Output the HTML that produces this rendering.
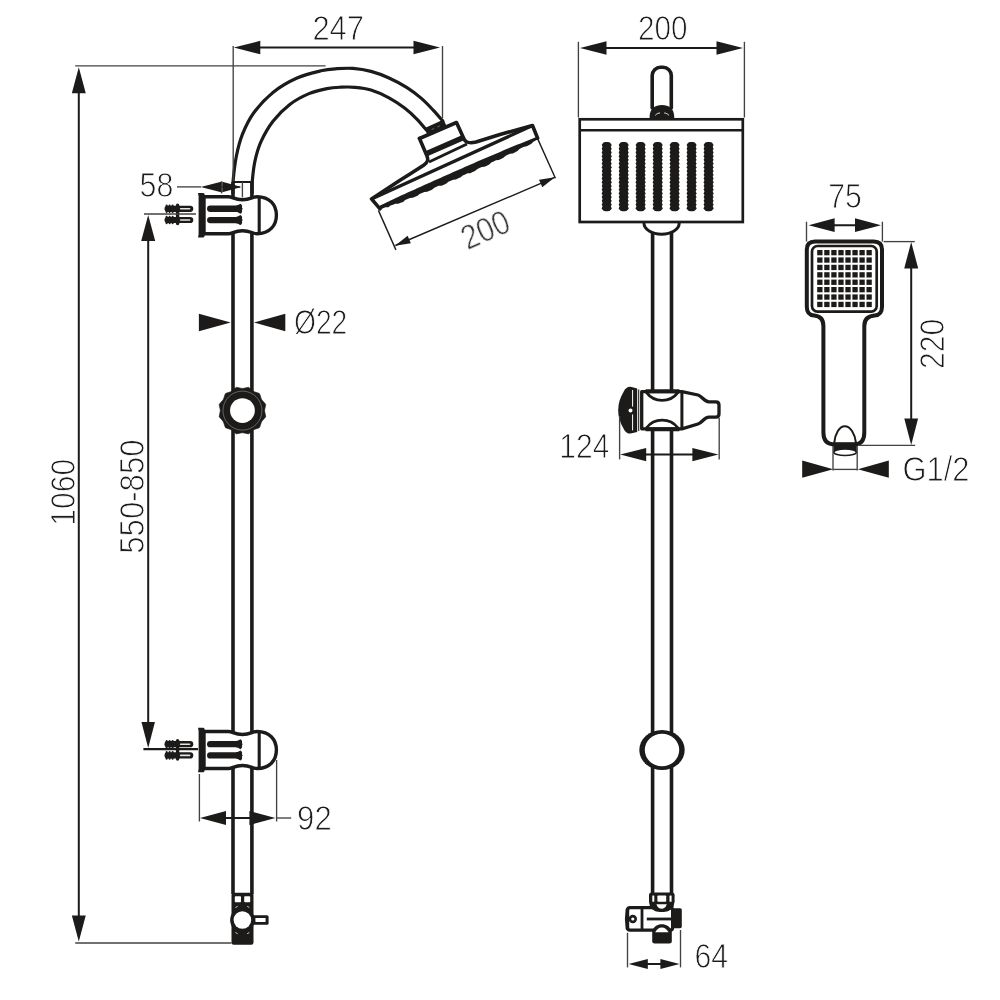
<!DOCTYPE html>
<html lang="en">
<head>
<meta charset="utf-8">
<title>Shower column - technical drawing</title>
<style>
html,body{margin:0;padding:0;background:#fff;}
body{width:1000px;height:1000px;overflow:hidden;}
svg{display:block;}
text{font-family:"Liberation Sans",sans-serif;}
</style>
</head>
<body>
<svg width="1000" height="1000" viewBox="0 0 1000 1000">
<rect x="0" y="0" width="1000" height="1000" fill="#fff"/>
<path d="M232.90,193.00 C232.95,190.83 232.62,186.17 233.20,180.00 C233.78,173.83 234.87,163.60 236.40,156.00 C237.93,148.40 239.50,141.60 242.40,134.40 C245.30,127.20 248.70,119.80 253.80,112.80 C258.90,105.80 265.80,98.20 273.00,92.40 C280.20,86.60 289.00,81.60 297.00,78.00 C305.00,74.40 314.33,72.35 321.00,70.80 C327.67,69.25 331.67,69.10 337.00,68.70 C342.33,68.30 347.33,67.95 353.00,68.40 C358.67,68.85 365.00,69.80 371.00,71.40 C377.00,73.00 383.00,75.30 389.00,78.00 C395.00,80.70 401.60,84.20 407.00,87.60 C412.40,91.00 417.00,94.60 421.40,98.40 C425.80,102.20 429.83,106.60 433.40,110.40 C436.97,114.20 441.23,119.40 442.80,121.20" fill="none" stroke="#1c1b1a" stroke-width="3.2" stroke-linejoin="round" stroke-linecap="round" />
<path d="M252.10,193.00 C252.15,190.83 251.92,185.37 252.40,180.00 C252.88,174.63 253.57,167.20 255.00,160.80 C256.43,154.40 258.00,148.20 261.00,141.60 C264.00,135.00 268.20,127.40 273.00,121.20 C277.80,115.00 283.80,109.00 289.80,104.40 C295.80,99.80 302.80,96.23 309.00,93.60 C315.20,90.97 321.67,89.67 327.00,88.60 C332.33,87.53 336.33,87.42 341.00,87.20 C345.67,86.98 350.00,86.83 355.00,87.30 C360.00,87.77 365.33,88.25 371.00,90.00 C376.67,91.75 383.40,94.80 389.00,97.80 C394.60,100.80 400.00,104.50 404.60,108.00 C409.20,111.50 412.97,115.13 416.60,118.80 C420.23,122.47 424.77,128.13 426.40,130.00" fill="none" stroke="#1c1b1a" stroke-width="3.2" stroke-linejoin="round" stroke-linecap="round" />
<line x1="233.00" y1="182.00" x2="251.90" y2="182.00" stroke="#1c1b1a" stroke-width="2.0" />
<path d="M424.4,128.2 L443.6,119.6 L446.6,126.2 L427.4,134.8 Z" fill="#1c1b1a" stroke="none" />
<line x1="431.60" y1="129.60" x2="434.20" y2="128.40" stroke="#1c1b1a" stroke-width="0.5" style="stroke:#aaa"/>
<line x1="437.40" y1="127.00" x2="440.00" y2="125.80" stroke="#1c1b1a" stroke-width="0.5" style="stroke:#aaa"/>
<line x1="233.00" y1="182.00" x2="233.00" y2="894.00" stroke="#1c1b1a" stroke-width="3.6" />
<line x1="251.90" y1="182.00" x2="251.90" y2="894.00" stroke="#1c1b1a" stroke-width="3.6" />
<path d="M204,196.70 L228.5,196.70 C232.5,196.70 234.5,199.70 242.5,199.70 C250.5,199.70 252.5,196.70 257,196.70 C270,196.70 276.4,205.20 276.4,215.20 C276.4,225.20 270,233.70 257,233.70 C252.5,233.70 250.5,230.70 242.5,230.70 C234.5,230.70 232.5,233.70 228.5,233.70 L204,233.70 Z" fill="#fff" stroke="#1c1b1a" stroke-width="3.4" stroke-linejoin="round" stroke-linecap="round" />
<line x1="259.20" y1="197.20" x2="259.20" y2="233.20" stroke="#1c1b1a" stroke-width="3.1" />
<path d="M198.0,193.00 L203.2,193.00 C204.4,193.20 204.7,194.20 204.7,195.70 L204.7,234.70 C204.7,236.20 204.4,237.20 203.2,237.40 L198.0,237.40 L198.6,234.20 L198.6,196.20 Z" fill="#1c1b1a" stroke="none" />
<line x1="210.2" y1="208.75" x2="238.5" y2="208.75" stroke="#1c1b1a" stroke-width="6.3" stroke-linecap="round"/>
<path d="M236.0,205.65 C238.0,205.45 239.4,204.15 240.4,203.75 C241.8,204.35 242.6,206.15 241.9,207.55 L242.7,208.75 L241.9,209.95 C242.6,211.35 241.8,213.15 240.4,213.75 C239.4,213.35 238.0,212.05 236.0,211.85 Z" fill="#1c1b1a" stroke="none" />
<line x1="210.2" y1="220.05" x2="238.5" y2="220.05" stroke="#1c1b1a" stroke-width="6.3" stroke-linecap="round"/>
<path d="M236.0,216.95 C238.0,216.75 239.4,215.45 240.4,215.05 C241.8,215.65 242.6,217.45 241.9,218.85 L242.7,220.05 L241.9,221.25 C242.6,222.65 241.8,224.45 240.4,225.05 C239.4,224.65 238.0,223.35 236.0,223.15 Z" fill="#1c1b1a" stroke="none" />
<line x1="167.6" y1="208.80" x2="190.2" y2="208.80" stroke="#1c1b1a" stroke-width="6.2" stroke-linecap="round"/>
<line x1="166.6" y1="205.50" x2="166.6" y2="212.10" stroke="#1c1b1a" stroke-width="2.0" stroke-linecap="round"/>
<line x1="169.6" y1="205.50" x2="169.6" y2="212.10" stroke="#1c1b1a" stroke-width="2.0" stroke-linecap="round"/>
<line x1="172.6" y1="205.50" x2="172.6" y2="212.10" stroke="#1c1b1a" stroke-width="2.0" stroke-linecap="round"/>
<line x1="180.6" y1="208.80" x2="189.6" y2="208.80" stroke="#e4e4e4" stroke-width="1.6" stroke-linecap="round"/>
<line x1="167.6" y1="220.00" x2="190.2" y2="220.00" stroke="#1c1b1a" stroke-width="6.2" stroke-linecap="round"/>
<line x1="166.6" y1="216.70" x2="166.6" y2="223.30" stroke="#1c1b1a" stroke-width="2.0" stroke-linecap="round"/>
<line x1="169.6" y1="216.70" x2="169.6" y2="223.30" stroke="#1c1b1a" stroke-width="2.0" stroke-linecap="round"/>
<line x1="172.6" y1="216.70" x2="172.6" y2="223.30" stroke="#1c1b1a" stroke-width="2.0" stroke-linecap="round"/>
<line x1="180.6" y1="220.00" x2="189.6" y2="220.00" stroke="#e4e4e4" stroke-width="1.6" stroke-linecap="round"/>
<line x1="177.6" y1="205.20" x2="177.6" y2="223.60" stroke="#1c1b1a" stroke-width="3.4" stroke-linecap="round"/>
<path d="M204,731.50 L228.5,731.50 C232.5,731.50 234.5,734.50 242.5,734.50 C250.5,734.50 252.5,731.50 257,731.50 C270,731.50 276.4,740.00 276.4,750.00 C276.4,760.00 270,768.50 257,768.50 C252.5,768.50 250.5,765.50 242.5,765.50 C234.5,765.50 232.5,768.50 228.5,768.50 L204,768.50 Z" fill="#fff" stroke="#1c1b1a" stroke-width="3.4" stroke-linejoin="round" stroke-linecap="round" />
<line x1="259.20" y1="732.00" x2="259.20" y2="768.00" stroke="#1c1b1a" stroke-width="3.1" />
<path d="M198.0,727.80 L203.2,727.80 C204.4,728.00 204.7,729.00 204.7,730.50 L204.7,769.50 C204.7,771.00 204.4,772.00 203.2,772.20 L198.0,772.20 L198.6,769.00 L198.6,731.00 Z" fill="#1c1b1a" stroke="none" />
<line x1="210.2" y1="744.15" x2="238.5" y2="744.15" stroke="#1c1b1a" stroke-width="6.3" stroke-linecap="round"/>
<path d="M236.0,741.05 C238.0,740.85 239.4,739.55 240.4,739.15 C241.8,739.75 242.6,741.55 241.9,742.95 L242.7,744.15 L241.9,745.35 C242.6,746.75 241.8,748.55 240.4,749.15 C239.4,748.75 238.0,747.45 236.0,747.25 Z" fill="#1c1b1a" stroke="none" />
<line x1="210.2" y1="755.45" x2="238.5" y2="755.45" stroke="#1c1b1a" stroke-width="6.3" stroke-linecap="round"/>
<path d="M236.0,752.35 C238.0,752.15 239.4,750.85 240.4,750.45 C241.8,751.05 242.6,752.85 241.9,754.25 L242.7,755.45 L241.9,756.65 C242.6,758.05 241.8,759.85 240.4,760.45 C239.4,760.05 238.0,758.75 236.0,758.55 Z" fill="#1c1b1a" stroke="none" />
<line x1="167.6" y1="744.20" x2="190.2" y2="744.20" stroke="#1c1b1a" stroke-width="6.2" stroke-linecap="round"/>
<line x1="166.6" y1="740.90" x2="166.6" y2="747.50" stroke="#1c1b1a" stroke-width="2.0" stroke-linecap="round"/>
<line x1="169.6" y1="740.90" x2="169.6" y2="747.50" stroke="#1c1b1a" stroke-width="2.0" stroke-linecap="round"/>
<line x1="172.6" y1="740.90" x2="172.6" y2="747.50" stroke="#1c1b1a" stroke-width="2.0" stroke-linecap="round"/>
<line x1="180.6" y1="744.20" x2="189.6" y2="744.20" stroke="#e4e4e4" stroke-width="1.6" stroke-linecap="round"/>
<line x1="167.6" y1="755.40" x2="190.2" y2="755.40" stroke="#1c1b1a" stroke-width="6.2" stroke-linecap="round"/>
<line x1="166.6" y1="752.10" x2="166.6" y2="758.70" stroke="#1c1b1a" stroke-width="2.0" stroke-linecap="round"/>
<line x1="169.6" y1="752.10" x2="169.6" y2="758.70" stroke="#1c1b1a" stroke-width="2.0" stroke-linecap="round"/>
<line x1="172.6" y1="752.10" x2="172.6" y2="758.70" stroke="#1c1b1a" stroke-width="2.0" stroke-linecap="round"/>
<line x1="180.6" y1="755.40" x2="189.6" y2="755.40" stroke="#e4e4e4" stroke-width="1.6" stroke-linecap="round"/>
<line x1="177.6" y1="740.60" x2="177.6" y2="759.00" stroke="#1c1b1a" stroke-width="3.4" stroke-linecap="round"/>
<path d="M264.55,410.60 L264.62,411.33 L264.74,412.06 L264.90,412.81 L265.07,413.58 L265.23,414.36 L265.39,415.16 L265.53,415.98 L265.63,416.81 L265.13,417.48 L264.60,418.12 L264.06,418.73 L263.52,419.33 L263.00,419.91 L262.49,420.48 L262.01,421.06 L261.59,421.65 L261.29,422.31 L261.03,423.01 L260.79,423.74 L260.55,424.49 L260.30,425.25 L260.04,426.02 L259.75,426.80 L259.42,427.57 L258.65,427.90 L257.87,428.19 L257.10,428.45 L256.34,428.70 L255.59,428.94 L254.86,429.18 L254.16,429.44 L253.50,429.74 L252.91,430.16 L252.33,430.64 L251.76,431.15 L251.18,431.67 L250.58,432.21 L249.97,432.75 L249.33,433.28 L248.66,433.78 L247.83,433.68 L247.01,433.54 L246.21,433.38 L245.43,433.22 L244.66,433.05 L243.91,432.89 L243.18,432.77 L242.45,432.70 L241.72,432.77 L240.99,432.89 L240.24,433.05 L239.47,433.22 L238.69,433.38 L237.89,433.54 L237.07,433.68 L236.24,433.78 L235.57,433.28 L234.93,432.75 L234.32,432.21 L233.72,431.67 L233.14,431.15 L232.57,430.64 L231.99,430.16 L231.40,429.74 L230.74,429.44 L230.04,429.18 L229.31,428.94 L228.56,428.70 L227.80,428.45 L227.03,428.19 L226.25,427.90 L225.48,427.57 L225.15,426.80 L224.86,426.02 L224.60,425.25 L224.35,424.49 L224.11,423.74 L223.87,423.01 L223.61,422.31 L223.31,421.65 L222.89,421.06 L222.41,420.48 L221.90,419.91 L221.38,419.33 L220.84,418.73 L220.30,418.12 L219.77,417.48 L219.27,416.81 L219.37,415.98 L219.51,415.16 L219.67,414.36 L219.83,413.58 L220.00,412.81 L220.16,412.06 L220.28,411.33 L220.35,410.60 L220.28,409.87 L220.16,409.14 L220.00,408.39 L219.83,407.62 L219.67,406.84 L219.51,406.04 L219.37,405.22 L219.27,404.39 L219.77,403.72 L220.30,403.08 L220.84,402.47 L221.38,401.87 L221.90,401.29 L222.41,400.72 L222.89,400.14 L223.31,399.55 L223.61,398.89 L223.87,398.19 L224.11,397.46 L224.35,396.71 L224.60,395.95 L224.86,395.18 L225.15,394.40 L225.48,393.63 L226.25,393.30 L227.03,393.01 L227.80,392.75 L228.56,392.50 L229.31,392.26 L230.04,392.02 L230.74,391.76 L231.40,391.46 L231.99,391.04 L232.57,390.56 L233.14,390.05 L233.72,389.53 L234.32,388.99 L234.93,388.45 L235.57,387.92 L236.24,387.42 L237.07,387.52 L237.89,387.66 L238.69,387.82 L239.47,387.98 L240.24,388.15 L240.99,388.31 L241.72,388.43 L242.45,388.50 L243.18,388.43 L243.91,388.31 L244.66,388.15 L245.43,387.98 L246.21,387.82 L247.01,387.66 L247.83,387.52 L248.66,387.42 L249.33,387.92 L249.97,388.45 L250.58,388.99 L251.18,389.53 L251.76,390.05 L252.33,390.56 L252.91,391.04 L253.50,391.46 L254.16,391.76 L254.86,392.02 L255.59,392.26 L256.34,392.50 L257.10,392.75 L257.87,393.01 L258.65,393.30 L259.42,393.63 L259.75,394.40 L260.04,395.18 L260.30,395.95 L260.55,396.71 L260.79,397.46 L261.03,398.19 L261.29,398.89 L261.59,399.55 L262.01,400.14 L262.49,400.72 L263.00,401.29 L263.52,401.87 L264.06,402.47 L264.60,403.08 L265.13,403.72 L265.63,404.39 L265.53,405.22 L265.39,406.04 L265.23,406.84 L265.07,407.62 L264.90,408.39 L264.74,409.14 L264.62,409.87 Z" fill="#1c1b1a" stroke="#1c1b1a" stroke-width="0.8" stroke-linejoin="round"/>
<circle cx="242.45" cy="410.6" r="19.5" fill="none" stroke="#bbb" stroke-width="0.45"/>
<circle cx="242.45" cy="410.6" r="12.4" fill="#fff"/>
<rect x="231.50" y="892.80" width="22.00" height="52.00" rx="2.2" fill="#1c1b1a" stroke="none" stroke-width="0"/>
<rect x="234.80" y="896.20" width="6.20" height="6.00" rx="0.8" fill="#fff" stroke="none" stroke-width="0"/>
<rect x="244.20" y="896.20" width="6.00" height="6.00" rx="0.8" fill="#fff" stroke="none" stroke-width="0"/>
<circle cx="242.4" cy="920" r="12.3" fill="#1c1b1a"/>
<circle cx="242.4" cy="920" r="8.8" fill="#fff"/>
<rect x="252.00" y="915.20" width="16.60" height="9.60" rx="1.6" fill="#1c1b1a" stroke="none" stroke-width="0"/>
<rect x="255.40" y="918.10" width="10.20" height="3.80" rx="0.4" fill="#fff" stroke="none" stroke-width="0"/>
<line x1="235.5" y1="907.5" x2="237.6" y2="906.3" stroke="#fff" stroke-width="0.8"/>
<line x1="249.3" y1="907.5" x2="247.2" y2="906.3" stroke="#fff" stroke-width="0.8"/>
<line x1="235.5" y1="932.5" x2="237.6" y2="933.7" stroke="#fff" stroke-width="0.8"/>
<line x1="249.3" y1="932.5" x2="247.2" y2="933.7" stroke="#fff" stroke-width="0.8"/>
<path d="M419.5,138.5 L456.5,122.5 L464.0,139.0 C465.6,142.6 468.5,143.6 476,142.0 L500,134.5 L532.5,125.5 L537.6,138.2" fill="none" stroke="#1c1b1a" stroke-width="3.6" stroke-linejoin="round" stroke-linecap="round" />
<path d="M419.5,138.5 L427.0,156.0 C428.4,159.6 428.2,162.2 424.0,165.0 L410,174 L400,180.2 L371.5,198.9 L380.0,208.8" fill="none" stroke="#1c1b1a" stroke-width="3.6" stroke-linejoin="round" stroke-linecap="round" />
<path d="M425.8,151.0 L461.2,135.6 L463.4,140.6 L428.0,156.0 Z" fill="#1c1b1a" stroke="none" />
<line x1="429.00" y1="162.00" x2="467.00" y2="144.00" stroke="#1c1b1a" stroke-width="3.0" />
<line x1="371.50" y1="198.90" x2="532.50" y2="125.60" stroke="#1c1b1a" stroke-width="3.3" />
<path d="M379.27,205.95 L381.62,204.82 L383.98,203.70 L386.33,202.57 L388.68,201.44 L391.03,200.31 L393.38,199.18 L395.74,198.05 L398.09,196.92 L400.45,195.82 L402.83,194.75 L405.21,193.68 L407.58,192.61 L409.96,191.54 L412.34,190.47 L414.72,189.40 L417.10,188.33 L419.47,187.26 L421.85,186.19 L424.23,185.12 L426.61,184.05 L428.99,182.98 L431.36,181.91 L433.74,180.84 L436.12,179.77 L438.50,178.70 L440.88,177.63 L443.26,176.57 L445.65,175.52 L448.03,174.47 L450.42,173.41 L452.80,172.36 L455.19,171.31 L457.58,170.26 L459.96,169.21 L462.35,168.16 L464.73,167.10 L467.12,166.05 L469.51,165.00 L471.89,163.95 L474.28,162.90 L476.67,161.85 L479.06,160.81 L481.46,159.79 L483.86,158.77 L486.26,157.75 L488.66,156.73 L491.06,155.71 L493.46,154.69 L495.86,153.67 L498.26,152.65 L500.66,151.63 L503.06,150.61 L505.46,149.59 L507.86,148.57 L510.26,147.55 L512.66,146.53 L515.08,145.56 L517.51,144.60 L519.93,143.64 L522.36,142.68 L524.79,141.71 L527.21,140.75 L529.64,139.79 L532.06,138.83 L534.49,137.86 L536.91,136.90 L538.01,139.37 L535.69,140.58 L533.38,141.80 L531.42,143.83 L529.11,145.04 L526.79,146.25 L524.11,146.64 L521.80,147.85 L519.48,149.06 L517.53,151.10 L515.21,152.30 L512.85,153.41 L510.13,153.70 L507.77,154.81 L505.41,155.92 L503.41,157.86 L501.05,158.97 L498.69,160.08 L495.97,160.37 L493.61,161.48 L491.25,162.59 L489.25,164.52 L486.89,165.64 L484.53,166.75 L481.81,167.04 L479.44,168.11 L477.05,169.16 L475.02,171.03 L472.64,172.08 L470.25,173.13 L467.50,173.35 L465.11,174.40 L462.72,175.45 L460.70,177.32 L458.31,178.37 L455.92,179.42 L453.17,179.64 L450.79,180.69 L448.40,181.74 L446.37,183.61 L443.98,184.65 L441.58,185.66 L438.81,185.85 L436.41,186.86 L434.00,187.88 L431.97,189.71 L429.56,190.73 L427.16,191.74 L424.39,191.93 L421.99,192.95 L419.59,193.96 L417.55,195.80 L415.14,196.81 L412.74,197.82 L409.97,198.01 L407.57,199.03 L405.17,200.04 L403.13,201.88 L400.70,202.82 L398.24,203.72 L395.42,203.79 L392.97,204.68 L390.51,205.58 L388.42,207.29 L385.60,207.37 L383.14,208.26 L380.69,209.15 Z" fill="#1c1b1a" stroke="none" />
<line x1="75.20" y1="65.90" x2="325.60" y2="65.90" stroke="#424242" stroke-width="1.35" />
<line x1="75.20" y1="943.00" x2="231.50" y2="943.00" stroke="#424242" stroke-width="1.35" />
<line x1="78.80" y1="80.00" x2="78.80" y2="930.00" stroke="#1c1b1a" stroke-width="2.0" />
<polygon points="78.80,67.20 85.75,93.20 71.85,93.20" fill="#1c1b1a"/>
<polygon points="78.80,941.40 71.85,915.60 85.75,915.60" fill="#1c1b1a"/>
<line x1="144.00" y1="214.00" x2="196.00" y2="214.00" stroke="#424242" stroke-width="1.35" />
<line x1="143.40" y1="749.20" x2="198.00" y2="749.20" stroke="#1c1b1a" stroke-width="2.2" />
<line x1="148.20" y1="230.00" x2="148.20" y2="735.00" stroke="#1c1b1a" stroke-width="2.0" />
<polygon points="148.20,215.00 155.20,241.00 141.20,241.00" fill="#1c1b1a"/>
<polygon points="148.20,748.00 141.45,722.00 154.95,722.00" fill="#1c1b1a"/>
<line x1="233.20" y1="46.00" x2="233.20" y2="181.00" stroke="#424242" stroke-width="1.35" />
<line x1="442.50" y1="46.00" x2="442.50" y2="118.00" stroke="#424242" stroke-width="1.35" />
<line x1="250.00" y1="47.60" x2="425.00" y2="47.60" stroke="#1c1b1a" stroke-width="2.0" />
<polygon points="233.80,47.60 260.30,40.85 260.30,54.35" fill="#1c1b1a"/>
<polygon points="440.00,47.60 413.50,54.35 413.50,40.85" fill="#1c1b1a"/>
<line x1="177.00" y1="186.90" x2="201.00" y2="186.90" stroke="#424242" stroke-width="1.35" />
<line x1="221.60" y1="181.20" x2="221.60" y2="193.40" stroke="#424242" stroke-width="1.35" />
<line x1="242.40" y1="182.00" x2="242.40" y2="197.40" stroke="#424242" stroke-width="1.35" />
<line x1="204.00" y1="187.00" x2="240.00" y2="187.00" stroke="#424242" stroke-width="1.35" />
<polygon points="200.70,187.00 221.10,181.80 221.10,192.20" fill="#1c1b1a"/>
<polygon points="241.50,187.00 222.30,192.20 222.30,181.80" fill="#1c1b1a"/>
<polygon points="230.70,322.60 198.90,331.35 198.90,313.85" fill="#1c1b1a"/>
<polygon points="254.00,322.60 285.30,313.85 285.30,331.35" fill="#1c1b1a"/>
<line x1="199.40" y1="774.00" x2="199.40" y2="821.50" stroke="#424242" stroke-width="1.35" />
<line x1="276.60" y1="760.00" x2="276.60" y2="821.50" stroke="#424242" stroke-width="1.35" />
<line x1="215.00" y1="818.00" x2="262.00" y2="818.00" stroke="#1c1b1a" stroke-width="2.0" />
<line x1="276.60" y1="818.00" x2="291.20" y2="818.00" stroke="#424242" stroke-width="1.35" />
<polygon points="200.00,818.00 226.00,811.00 226.00,825.00" fill="#1c1b1a"/>
<polygon points="275.40,818.00 249.40,825.00 249.40,811.00" fill="#1c1b1a"/>
<line x1="378.40" y1="210.40" x2="395.90" y2="249.90" stroke="#1c1b1a" stroke-width="1.4" />
<line x1="537.60" y1="138.60" x2="555.40" y2="178.20" stroke="#1c1b1a" stroke-width="1.4" />
<line x1="395.40" y1="245.50" x2="554.80" y2="177.40" stroke="#1c1b1a" stroke-width="1.4" />
<polygon points="395.00,245.70 407.63,235.83 410.86,243.36" fill="#1c1b1a"/>
<polygon points="554.90,177.30 542.27,187.17 539.04,179.64" fill="#1c1b1a"/>
<path d="M652.2,108 L652.2,75.6 A8.3,8.3 0 0 1 660.5,67.3 L663.0,67.3 A8.3,8.3 0 0 1 671.3000000000001,75.6 L671.3000000000001,108" fill="none" stroke="#1c1b1a" stroke-width="3.6" stroke-linejoin="round" stroke-linecap="round" />
<path d="M649.6,119.4 L649.6,116.5 C649.8,108.6 655,105.0 662,105.0 C669,105.0 674,108.6 674.2,116.5 L674.2,119.4 Z" fill="#1c1b1a" stroke="none" />
<path d="M655.6,115.0 C657.0,113.6 658.4,113.0 659.6,113.0" fill="none" stroke="#1c1b1a" stroke-width="0.9" stroke-linejoin="round" stroke-linecap="round" style="stroke:#fff"/>
<path d="M668.6,115.0 C667.2,113.6 665.8,113.0 664.6,113.0" fill="none" stroke="#1c1b1a" stroke-width="0.9" stroke-linejoin="round" stroke-linecap="round" style="stroke:#fff"/>
<rect x="579.7" y="119.3" width="163.1" height="102.7" fill="#fff" stroke="#1c1b1a" stroke-width="2.7"/>
<line x1="579.70" y1="130.20" x2="742.80" y2="130.20" stroke="#1c1b1a" stroke-width="2.5" />
<rect x="602.50" y="142.0" width="8.4" height="69.2" rx="3.0" fill="#1c1b1a"/>
<ellipse cx="606.7" cy="145.00" rx="4.9" ry="2.1" fill="#1c1b1a"/>
<ellipse cx="606.7" cy="148.72" rx="4.9" ry="2.1" fill="#1c1b1a"/>
<ellipse cx="606.7" cy="152.44" rx="4.9" ry="2.1" fill="#1c1b1a"/>
<ellipse cx="606.7" cy="156.15" rx="4.9" ry="2.1" fill="#1c1b1a"/>
<ellipse cx="606.7" cy="159.87" rx="4.9" ry="2.1" fill="#1c1b1a"/>
<ellipse cx="606.7" cy="163.59" rx="4.9" ry="2.1" fill="#1c1b1a"/>
<ellipse cx="606.7" cy="167.31" rx="4.9" ry="2.1" fill="#1c1b1a"/>
<ellipse cx="606.7" cy="171.02" rx="4.9" ry="2.1" fill="#1c1b1a"/>
<ellipse cx="606.7" cy="174.74" rx="4.9" ry="2.1" fill="#1c1b1a"/>
<ellipse cx="606.7" cy="178.46" rx="4.9" ry="2.1" fill="#1c1b1a"/>
<ellipse cx="606.7" cy="182.18" rx="4.9" ry="2.1" fill="#1c1b1a"/>
<ellipse cx="606.7" cy="185.89" rx="4.9" ry="2.1" fill="#1c1b1a"/>
<ellipse cx="606.7" cy="189.61" rx="4.9" ry="2.1" fill="#1c1b1a"/>
<ellipse cx="606.7" cy="193.33" rx="4.9" ry="2.1" fill="#1c1b1a"/>
<ellipse cx="606.7" cy="197.05" rx="4.9" ry="2.1" fill="#1c1b1a"/>
<ellipse cx="606.7" cy="200.76" rx="4.9" ry="2.1" fill="#1c1b1a"/>
<ellipse cx="606.7" cy="204.48" rx="4.9" ry="2.1" fill="#1c1b1a"/>
<ellipse cx="606.7" cy="208.20" rx="4.9" ry="2.1" fill="#1c1b1a"/>
<rect x="619.50" y="142.0" width="8.4" height="69.2" rx="3.0" fill="#1c1b1a"/>
<ellipse cx="623.7" cy="145.00" rx="4.9" ry="2.1" fill="#1c1b1a"/>
<ellipse cx="623.7" cy="148.72" rx="4.9" ry="2.1" fill="#1c1b1a"/>
<ellipse cx="623.7" cy="152.44" rx="4.9" ry="2.1" fill="#1c1b1a"/>
<ellipse cx="623.7" cy="156.15" rx="4.9" ry="2.1" fill="#1c1b1a"/>
<ellipse cx="623.7" cy="159.87" rx="4.9" ry="2.1" fill="#1c1b1a"/>
<ellipse cx="623.7" cy="163.59" rx="4.9" ry="2.1" fill="#1c1b1a"/>
<ellipse cx="623.7" cy="167.31" rx="4.9" ry="2.1" fill="#1c1b1a"/>
<ellipse cx="623.7" cy="171.02" rx="4.9" ry="2.1" fill="#1c1b1a"/>
<ellipse cx="623.7" cy="174.74" rx="4.9" ry="2.1" fill="#1c1b1a"/>
<ellipse cx="623.7" cy="178.46" rx="4.9" ry="2.1" fill="#1c1b1a"/>
<ellipse cx="623.7" cy="182.18" rx="4.9" ry="2.1" fill="#1c1b1a"/>
<ellipse cx="623.7" cy="185.89" rx="4.9" ry="2.1" fill="#1c1b1a"/>
<ellipse cx="623.7" cy="189.61" rx="4.9" ry="2.1" fill="#1c1b1a"/>
<ellipse cx="623.7" cy="193.33" rx="4.9" ry="2.1" fill="#1c1b1a"/>
<ellipse cx="623.7" cy="197.05" rx="4.9" ry="2.1" fill="#1c1b1a"/>
<ellipse cx="623.7" cy="200.76" rx="4.9" ry="2.1" fill="#1c1b1a"/>
<ellipse cx="623.7" cy="204.48" rx="4.9" ry="2.1" fill="#1c1b1a"/>
<ellipse cx="623.7" cy="208.20" rx="4.9" ry="2.1" fill="#1c1b1a"/>
<rect x="636.40" y="142.0" width="8.4" height="69.2" rx="3.0" fill="#1c1b1a"/>
<ellipse cx="640.6" cy="145.00" rx="4.9" ry="2.1" fill="#1c1b1a"/>
<ellipse cx="640.6" cy="148.72" rx="4.9" ry="2.1" fill="#1c1b1a"/>
<ellipse cx="640.6" cy="152.44" rx="4.9" ry="2.1" fill="#1c1b1a"/>
<ellipse cx="640.6" cy="156.15" rx="4.9" ry="2.1" fill="#1c1b1a"/>
<ellipse cx="640.6" cy="159.87" rx="4.9" ry="2.1" fill="#1c1b1a"/>
<ellipse cx="640.6" cy="163.59" rx="4.9" ry="2.1" fill="#1c1b1a"/>
<ellipse cx="640.6" cy="167.31" rx="4.9" ry="2.1" fill="#1c1b1a"/>
<ellipse cx="640.6" cy="171.02" rx="4.9" ry="2.1" fill="#1c1b1a"/>
<ellipse cx="640.6" cy="174.74" rx="4.9" ry="2.1" fill="#1c1b1a"/>
<ellipse cx="640.6" cy="178.46" rx="4.9" ry="2.1" fill="#1c1b1a"/>
<ellipse cx="640.6" cy="182.18" rx="4.9" ry="2.1" fill="#1c1b1a"/>
<ellipse cx="640.6" cy="185.89" rx="4.9" ry="2.1" fill="#1c1b1a"/>
<ellipse cx="640.6" cy="189.61" rx="4.9" ry="2.1" fill="#1c1b1a"/>
<ellipse cx="640.6" cy="193.33" rx="4.9" ry="2.1" fill="#1c1b1a"/>
<ellipse cx="640.6" cy="197.05" rx="4.9" ry="2.1" fill="#1c1b1a"/>
<ellipse cx="640.6" cy="200.76" rx="4.9" ry="2.1" fill="#1c1b1a"/>
<ellipse cx="640.6" cy="204.48" rx="4.9" ry="2.1" fill="#1c1b1a"/>
<ellipse cx="640.6" cy="208.20" rx="4.9" ry="2.1" fill="#1c1b1a"/>
<rect x="653.50" y="142.0" width="8.4" height="69.2" rx="3.0" fill="#1c1b1a"/>
<ellipse cx="657.7" cy="145.00" rx="4.9" ry="2.1" fill="#1c1b1a"/>
<ellipse cx="657.7" cy="148.72" rx="4.9" ry="2.1" fill="#1c1b1a"/>
<ellipse cx="657.7" cy="152.44" rx="4.9" ry="2.1" fill="#1c1b1a"/>
<ellipse cx="657.7" cy="156.15" rx="4.9" ry="2.1" fill="#1c1b1a"/>
<ellipse cx="657.7" cy="159.87" rx="4.9" ry="2.1" fill="#1c1b1a"/>
<ellipse cx="657.7" cy="163.59" rx="4.9" ry="2.1" fill="#1c1b1a"/>
<ellipse cx="657.7" cy="167.31" rx="4.9" ry="2.1" fill="#1c1b1a"/>
<ellipse cx="657.7" cy="171.02" rx="4.9" ry="2.1" fill="#1c1b1a"/>
<ellipse cx="657.7" cy="174.74" rx="4.9" ry="2.1" fill="#1c1b1a"/>
<ellipse cx="657.7" cy="178.46" rx="4.9" ry="2.1" fill="#1c1b1a"/>
<ellipse cx="657.7" cy="182.18" rx="4.9" ry="2.1" fill="#1c1b1a"/>
<ellipse cx="657.7" cy="185.89" rx="4.9" ry="2.1" fill="#1c1b1a"/>
<ellipse cx="657.7" cy="189.61" rx="4.9" ry="2.1" fill="#1c1b1a"/>
<ellipse cx="657.7" cy="193.33" rx="4.9" ry="2.1" fill="#1c1b1a"/>
<ellipse cx="657.7" cy="197.05" rx="4.9" ry="2.1" fill="#1c1b1a"/>
<ellipse cx="657.7" cy="200.76" rx="4.9" ry="2.1" fill="#1c1b1a"/>
<ellipse cx="657.7" cy="204.48" rx="4.9" ry="2.1" fill="#1c1b1a"/>
<ellipse cx="657.7" cy="208.20" rx="4.9" ry="2.1" fill="#1c1b1a"/>
<rect x="670.40" y="142.0" width="8.4" height="69.2" rx="3.0" fill="#1c1b1a"/>
<ellipse cx="674.6" cy="145.00" rx="4.9" ry="2.1" fill="#1c1b1a"/>
<ellipse cx="674.6" cy="148.72" rx="4.9" ry="2.1" fill="#1c1b1a"/>
<ellipse cx="674.6" cy="152.44" rx="4.9" ry="2.1" fill="#1c1b1a"/>
<ellipse cx="674.6" cy="156.15" rx="4.9" ry="2.1" fill="#1c1b1a"/>
<ellipse cx="674.6" cy="159.87" rx="4.9" ry="2.1" fill="#1c1b1a"/>
<ellipse cx="674.6" cy="163.59" rx="4.9" ry="2.1" fill="#1c1b1a"/>
<ellipse cx="674.6" cy="167.31" rx="4.9" ry="2.1" fill="#1c1b1a"/>
<ellipse cx="674.6" cy="171.02" rx="4.9" ry="2.1" fill="#1c1b1a"/>
<ellipse cx="674.6" cy="174.74" rx="4.9" ry="2.1" fill="#1c1b1a"/>
<ellipse cx="674.6" cy="178.46" rx="4.9" ry="2.1" fill="#1c1b1a"/>
<ellipse cx="674.6" cy="182.18" rx="4.9" ry="2.1" fill="#1c1b1a"/>
<ellipse cx="674.6" cy="185.89" rx="4.9" ry="2.1" fill="#1c1b1a"/>
<ellipse cx="674.6" cy="189.61" rx="4.9" ry="2.1" fill="#1c1b1a"/>
<ellipse cx="674.6" cy="193.33" rx="4.9" ry="2.1" fill="#1c1b1a"/>
<ellipse cx="674.6" cy="197.05" rx="4.9" ry="2.1" fill="#1c1b1a"/>
<ellipse cx="674.6" cy="200.76" rx="4.9" ry="2.1" fill="#1c1b1a"/>
<ellipse cx="674.6" cy="204.48" rx="4.9" ry="2.1" fill="#1c1b1a"/>
<ellipse cx="674.6" cy="208.20" rx="4.9" ry="2.1" fill="#1c1b1a"/>
<rect x="687.40" y="142.0" width="8.4" height="69.2" rx="3.0" fill="#1c1b1a"/>
<ellipse cx="691.6" cy="145.00" rx="4.9" ry="2.1" fill="#1c1b1a"/>
<ellipse cx="691.6" cy="148.72" rx="4.9" ry="2.1" fill="#1c1b1a"/>
<ellipse cx="691.6" cy="152.44" rx="4.9" ry="2.1" fill="#1c1b1a"/>
<ellipse cx="691.6" cy="156.15" rx="4.9" ry="2.1" fill="#1c1b1a"/>
<ellipse cx="691.6" cy="159.87" rx="4.9" ry="2.1" fill="#1c1b1a"/>
<ellipse cx="691.6" cy="163.59" rx="4.9" ry="2.1" fill="#1c1b1a"/>
<ellipse cx="691.6" cy="167.31" rx="4.9" ry="2.1" fill="#1c1b1a"/>
<ellipse cx="691.6" cy="171.02" rx="4.9" ry="2.1" fill="#1c1b1a"/>
<ellipse cx="691.6" cy="174.74" rx="4.9" ry="2.1" fill="#1c1b1a"/>
<ellipse cx="691.6" cy="178.46" rx="4.9" ry="2.1" fill="#1c1b1a"/>
<ellipse cx="691.6" cy="182.18" rx="4.9" ry="2.1" fill="#1c1b1a"/>
<ellipse cx="691.6" cy="185.89" rx="4.9" ry="2.1" fill="#1c1b1a"/>
<ellipse cx="691.6" cy="189.61" rx="4.9" ry="2.1" fill="#1c1b1a"/>
<ellipse cx="691.6" cy="193.33" rx="4.9" ry="2.1" fill="#1c1b1a"/>
<ellipse cx="691.6" cy="197.05" rx="4.9" ry="2.1" fill="#1c1b1a"/>
<ellipse cx="691.6" cy="200.76" rx="4.9" ry="2.1" fill="#1c1b1a"/>
<ellipse cx="691.6" cy="204.48" rx="4.9" ry="2.1" fill="#1c1b1a"/>
<ellipse cx="691.6" cy="208.20" rx="4.9" ry="2.1" fill="#1c1b1a"/>
<rect x="704.40" y="142.0" width="8.4" height="69.2" rx="3.0" fill="#1c1b1a"/>
<ellipse cx="708.6" cy="145.00" rx="4.9" ry="2.1" fill="#1c1b1a"/>
<ellipse cx="708.6" cy="148.72" rx="4.9" ry="2.1" fill="#1c1b1a"/>
<ellipse cx="708.6" cy="152.44" rx="4.9" ry="2.1" fill="#1c1b1a"/>
<ellipse cx="708.6" cy="156.15" rx="4.9" ry="2.1" fill="#1c1b1a"/>
<ellipse cx="708.6" cy="159.87" rx="4.9" ry="2.1" fill="#1c1b1a"/>
<ellipse cx="708.6" cy="163.59" rx="4.9" ry="2.1" fill="#1c1b1a"/>
<ellipse cx="708.6" cy="167.31" rx="4.9" ry="2.1" fill="#1c1b1a"/>
<ellipse cx="708.6" cy="171.02" rx="4.9" ry="2.1" fill="#1c1b1a"/>
<ellipse cx="708.6" cy="174.74" rx="4.9" ry="2.1" fill="#1c1b1a"/>
<ellipse cx="708.6" cy="178.46" rx="4.9" ry="2.1" fill="#1c1b1a"/>
<ellipse cx="708.6" cy="182.18" rx="4.9" ry="2.1" fill="#1c1b1a"/>
<ellipse cx="708.6" cy="185.89" rx="4.9" ry="2.1" fill="#1c1b1a"/>
<ellipse cx="708.6" cy="189.61" rx="4.9" ry="2.1" fill="#1c1b1a"/>
<ellipse cx="708.6" cy="193.33" rx="4.9" ry="2.1" fill="#1c1b1a"/>
<ellipse cx="708.6" cy="197.05" rx="4.9" ry="2.1" fill="#1c1b1a"/>
<ellipse cx="708.6" cy="200.76" rx="4.9" ry="2.1" fill="#1c1b1a"/>
<ellipse cx="708.6" cy="204.48" rx="4.9" ry="2.1" fill="#1c1b1a"/>
<ellipse cx="708.6" cy="208.20" rx="4.9" ry="2.1" fill="#1c1b1a"/>
<path d="M644.0,223.2 A17.6,11.0 0 0 0 679.2,223.2" fill="none" stroke="#1c1b1a" stroke-width="3.0" stroke-linejoin="round" stroke-linecap="round" />
<line x1="652.60" y1="232.00" x2="652.60" y2="894.00" stroke="#1c1b1a" stroke-width="3.6" />
<line x1="671.50" y1="232.00" x2="671.50" y2="894.00" stroke="#1c1b1a" stroke-width="3.6" />
<path d="M641.7,391.7 L681.9,391.7 L698.0,395.0 C702.2,396.2 704.0,401.7 709.0,401.9 L716.0,401.9 C718.2,401.9 719.0,403.2 719.0,405.2 L719.0,413.8 C719.0,415.8 718.2,417.1 716.0,417.1 L709.0,417.1 C704.0,417.3 702.2,422.8 698.0,424.0 L681.9,428.8 L641.7,428.8 Z" fill="#fff" stroke="#1c1b1a" stroke-width="3.3" stroke-linejoin="round" stroke-linecap="round" />
<line x1="681.90" y1="392.50" x2="681.90" y2="428.00" stroke="#1c1b1a" stroke-width="3.0" />
<path d="M646.6,392.6 C651,398.6 657,400.3 662.1,400.3 C667.2,400.3 673.4,398.6 677.8,392.6" fill="none" stroke="#1c1b1a" stroke-width="2.8" stroke-linejoin="round" stroke-linecap="round" />
<path d="M646.6,427.9 C651,421.9 657,420.2 662.1,420.2 C667.2,420.2 673.4,421.9 677.8,427.9" fill="none" stroke="#1c1b1a" stroke-width="2.8" stroke-linejoin="round" stroke-linecap="round" />
<line x1="645.60" y1="391.30" x2="679.40" y2="391.30" stroke="#1c1b1a" stroke-width="4.0" />
<line x1="645.60" y1="429.20" x2="679.40" y2="429.20" stroke="#1c1b1a" stroke-width="4.0" />
<path d="M637.2,388.4 L630.6,386.8 C627.4,386.6 625.6,388.4 624.0,391.0 C620.0,397.8 618.2,403.4 618.2,410.2 C618.2,417.0 620.0,422.6 624.0,429.4 C625.6,432.0 627.4,433.8 630.6,433.6 L637.2,432.0 Z" fill="#1c1b1a" stroke="none" />
<line x1="632.60" y1="390.00" x2="632.60" y2="406.60" stroke="#1c1b1a" stroke-width="1.0" style="stroke:#fff"/>
<line x1="632.60" y1="414.40" x2="632.60" y2="430.40" stroke="#1c1b1a" stroke-width="1.0" style="stroke:#fff"/>
<circle cx="630.5" cy="410.5" r="2.0" fill="#fff"/>
<line x1="638.70" y1="389.40" x2="638.70" y2="431.00" stroke="#1c1b1a" stroke-width="1.1" />
<ellipse cx="662.0" cy="750.0" rx="22.7" ry="20.1" fill="#1c1b1a"/>
<ellipse cx="662.0" cy="750.0" rx="17.2" ry="16.2" fill="#fff"/>
<rect x="649.00" y="892.60" width="25.60" height="11.60" rx="2.6" fill="#1c1b1a" stroke="none" stroke-width="0"/>
<rect x="652.30" y="895.40" width="2.00" height="6.40" rx="0.5" fill="#fff" stroke="none" stroke-width="0"/>
<rect x="657.40" y="895.40" width="8.80" height="6.40" rx="0.8" fill="#fff" stroke="none" stroke-width="0"/>
<rect x="669.50" y="895.40" width="2.10" height="6.40" rx="0.5" fill="#fff" stroke="none" stroke-width="0"/>
<rect x="627.6" y="907.6" width="45" height="22.6" rx="2.4" fill="#fff" stroke="#1c1b1a" stroke-width="3.2"/>
<path d="M627.4,909.5 C626.6,915 626.6,923 627.4,928.4" fill="none" stroke="#1c1b1a" stroke-width="3.6" stroke-linejoin="round" stroke-linecap="round" />
<rect x="640.60" y="907.60" width="2.80" height="22.60" rx="0" fill="#1c1b1a" stroke="none" stroke-width="0"/>
<circle cx="632.8" cy="919.0" r="2.9" fill="#fff" stroke="#1c1b1a" stroke-width="2.6"/>
<rect x="671.00" y="908.20" width="10.80" height="20.00" rx="1.6" fill="#1c1b1a" stroke="none" stroke-width="0"/>
<line x1="646.80" y1="919.00" x2="671.00" y2="919.00" stroke="#1c1b1a" stroke-width="2.8" />
<path d="M649.4,903.0 L674.2,903.0 L673.6,906.4 C671.0,910.6 666.6,912.0 661.7,912.0 C656.8,912.0 652.4,910.6 649.9,906.4 Z" fill="#1c1b1a" stroke="none" />
<path d="M656.4,904.2 L666.8,904.2 C665.6,907.6 663.8,908.8 661.6,908.8 C659.4,908.8 657.6,907.6 656.4,904.2 Z" fill="#fff" stroke="none" />
<path d="M652.2,931.4 C653.6,926.6 657.2,924.2 661.8,924.2 C666.4,924.2 670.2,926.6 671.8,931.4 L671.8,941.2 C671.8,942.6 670.8,943.4 669.4,943.4 L654.6,943.4 C653.2,943.4 652.2,942.6 652.2,941.2 Z" fill="#1c1b1a" stroke="none" />
<path d="M655.2,932.2 C656.8,929.0 659.0,927.4 661.8,927.4 C664.6,927.4 666.8,929.0 668.6,932.2 Z" fill="#fff" stroke="none" />
<line x1="578.40" y1="41.80" x2="578.40" y2="117.50" stroke="#424242" stroke-width="1.35" />
<line x1="744.40" y1="41.80" x2="744.40" y2="117.50" stroke="#424242" stroke-width="1.35" />
<line x1="600.00" y1="48.00" x2="722.00" y2="48.00" stroke="#1c1b1a" stroke-width="2.0" />
<polygon points="580.00,48.00 606.50,41.20 606.50,54.80" fill="#1c1b1a"/>
<polygon points="743.00,48.00 716.50,54.80 716.50,41.20" fill="#1c1b1a"/>
<line x1="619.60" y1="416.00" x2="619.60" y2="459.40" stroke="#424242" stroke-width="1.35" />
<line x1="719.20" y1="418.00" x2="719.20" y2="459.40" stroke="#424242" stroke-width="1.35" />
<line x1="636.00" y1="454.60" x2="702.00" y2="454.60" stroke="#1c1b1a" stroke-width="2.0" />
<polygon points="620.20,454.60 646.20,447.90 646.20,461.30" fill="#1c1b1a"/>
<polygon points="718.40,454.60 692.40,461.30 692.40,447.90" fill="#1c1b1a"/>
<line x1="627.50" y1="932.80" x2="627.50" y2="967.40" stroke="#424242" stroke-width="1.35" />
<line x1="680.50" y1="930.00" x2="680.50" y2="967.40" stroke="#424242" stroke-width="1.35" />
<line x1="640.00" y1="964.00" x2="668.00" y2="964.00" stroke="#1c1b1a" stroke-width="2.0" />
<polygon points="628.60,964.00 647.80,958.90 647.80,969.10" fill="#1c1b1a"/>
<polygon points="679.60,964.00 660.40,969.10 660.40,958.90" fill="#1c1b1a"/>
<path d="M815.0,241.5 L873.8,241.5 C879.4,241.5 882.0,244.4 882.0,249.6 L882.0,306.8 C882.0,312.4 879.4,315.2 874.6,315.6 C867.0,316.2 864.3,319.8 864.3,326.0 L864.3,432.4 C864.3,440.0 861.0,444.0 854.8,444.4 L833.8,444.4 C826.8,444.0 823.4,440.0 823.4,432.4 L823.4,326.0 C823.4,319.8 820.8,316.2 814.2,315.6 C809.4,315.2 806.8,312.4 806.8,306.8 L806.8,249.6 C806.8,244.4 809.4,241.5 815.0,241.5 Z" fill="#fff" stroke="#1c1b1a" stroke-width="4.0" stroke-linejoin="round" stroke-linecap="round" />
<rect x="812.0" y="246.0" width="64.7" height="65.7" rx="5.6" fill="none" stroke="#1c1b1a" stroke-width="2.7"/>
<rect x="817.20" y="250.00" width="5.30" height="5.30" rx="0" fill="#1c1b1a" stroke="none" stroke-width="0"/>
<rect x="817.20" y="257.40" width="5.30" height="5.30" rx="0" fill="#1c1b1a" stroke="none" stroke-width="0"/>
<rect x="817.20" y="264.80" width="5.30" height="5.30" rx="0" fill="#1c1b1a" stroke="none" stroke-width="0"/>
<rect x="817.20" y="272.20" width="5.30" height="5.30" rx="0" fill="#1c1b1a" stroke="none" stroke-width="0"/>
<rect x="817.20" y="279.60" width="5.30" height="5.30" rx="0" fill="#1c1b1a" stroke="none" stroke-width="0"/>
<rect x="817.20" y="287.00" width="5.30" height="5.30" rx="0" fill="#1c1b1a" stroke="none" stroke-width="0"/>
<rect x="817.20" y="294.40" width="5.30" height="5.30" rx="0" fill="#1c1b1a" stroke="none" stroke-width="0"/>
<rect x="817.20" y="301.80" width="5.30" height="5.30" rx="0" fill="#1c1b1a" stroke="none" stroke-width="0"/>
<rect x="824.24" y="250.00" width="5.30" height="5.30" rx="0" fill="#1c1b1a" stroke="none" stroke-width="0"/>
<rect x="824.24" y="257.40" width="5.30" height="5.30" rx="0" fill="#1c1b1a" stroke="none" stroke-width="0"/>
<rect x="824.24" y="264.80" width="5.30" height="5.30" rx="0" fill="#1c1b1a" stroke="none" stroke-width="0"/>
<rect x="824.24" y="272.20" width="5.30" height="5.30" rx="0" fill="#1c1b1a" stroke="none" stroke-width="0"/>
<rect x="824.24" y="279.60" width="5.30" height="5.30" rx="0" fill="#1c1b1a" stroke="none" stroke-width="0"/>
<rect x="824.24" y="287.00" width="5.30" height="5.30" rx="0" fill="#1c1b1a" stroke="none" stroke-width="0"/>
<rect x="824.24" y="294.40" width="5.30" height="5.30" rx="0" fill="#1c1b1a" stroke="none" stroke-width="0"/>
<rect x="824.24" y="301.80" width="5.30" height="5.30" rx="0" fill="#1c1b1a" stroke="none" stroke-width="0"/>
<rect x="831.28" y="250.00" width="5.30" height="5.30" rx="0" fill="#1c1b1a" stroke="none" stroke-width="0"/>
<rect x="831.28" y="257.40" width="5.30" height="5.30" rx="0" fill="#1c1b1a" stroke="none" stroke-width="0"/>
<rect x="831.28" y="264.80" width="5.30" height="5.30" rx="0" fill="#1c1b1a" stroke="none" stroke-width="0"/>
<rect x="831.28" y="272.20" width="5.30" height="5.30" rx="0" fill="#1c1b1a" stroke="none" stroke-width="0"/>
<rect x="831.28" y="279.60" width="5.30" height="5.30" rx="0" fill="#1c1b1a" stroke="none" stroke-width="0"/>
<rect x="831.28" y="287.00" width="5.30" height="5.30" rx="0" fill="#1c1b1a" stroke="none" stroke-width="0"/>
<rect x="831.28" y="294.40" width="5.30" height="5.30" rx="0" fill="#1c1b1a" stroke="none" stroke-width="0"/>
<rect x="831.28" y="301.80" width="5.30" height="5.30" rx="0" fill="#1c1b1a" stroke="none" stroke-width="0"/>
<rect x="838.32" y="250.00" width="5.30" height="5.30" rx="0" fill="#1c1b1a" stroke="none" stroke-width="0"/>
<rect x="838.32" y="257.40" width="5.30" height="5.30" rx="0" fill="#1c1b1a" stroke="none" stroke-width="0"/>
<rect x="838.32" y="264.80" width="5.30" height="5.30" rx="0" fill="#1c1b1a" stroke="none" stroke-width="0"/>
<rect x="838.32" y="272.20" width="5.30" height="5.30" rx="0" fill="#1c1b1a" stroke="none" stroke-width="0"/>
<rect x="838.32" y="279.60" width="5.30" height="5.30" rx="0" fill="#1c1b1a" stroke="none" stroke-width="0"/>
<rect x="838.32" y="287.00" width="5.30" height="5.30" rx="0" fill="#1c1b1a" stroke="none" stroke-width="0"/>
<rect x="838.32" y="294.40" width="5.30" height="5.30" rx="0" fill="#1c1b1a" stroke="none" stroke-width="0"/>
<rect x="838.32" y="301.80" width="5.30" height="5.30" rx="0" fill="#1c1b1a" stroke="none" stroke-width="0"/>
<rect x="845.36" y="250.00" width="5.30" height="5.30" rx="0" fill="#1c1b1a" stroke="none" stroke-width="0"/>
<rect x="845.36" y="257.40" width="5.30" height="5.30" rx="0" fill="#1c1b1a" stroke="none" stroke-width="0"/>
<rect x="845.36" y="264.80" width="5.30" height="5.30" rx="0" fill="#1c1b1a" stroke="none" stroke-width="0"/>
<rect x="845.36" y="272.20" width="5.30" height="5.30" rx="0" fill="#1c1b1a" stroke="none" stroke-width="0"/>
<rect x="845.36" y="279.60" width="5.30" height="5.30" rx="0" fill="#1c1b1a" stroke="none" stroke-width="0"/>
<rect x="845.36" y="287.00" width="5.30" height="5.30" rx="0" fill="#1c1b1a" stroke="none" stroke-width="0"/>
<rect x="845.36" y="294.40" width="5.30" height="5.30" rx="0" fill="#1c1b1a" stroke="none" stroke-width="0"/>
<rect x="845.36" y="301.80" width="5.30" height="5.30" rx="0" fill="#1c1b1a" stroke="none" stroke-width="0"/>
<rect x="852.40" y="250.00" width="5.30" height="5.30" rx="0" fill="#1c1b1a" stroke="none" stroke-width="0"/>
<rect x="852.40" y="257.40" width="5.30" height="5.30" rx="0" fill="#1c1b1a" stroke="none" stroke-width="0"/>
<rect x="852.40" y="264.80" width="5.30" height="5.30" rx="0" fill="#1c1b1a" stroke="none" stroke-width="0"/>
<rect x="852.40" y="272.20" width="5.30" height="5.30" rx="0" fill="#1c1b1a" stroke="none" stroke-width="0"/>
<rect x="852.40" y="279.60" width="5.30" height="5.30" rx="0" fill="#1c1b1a" stroke="none" stroke-width="0"/>
<rect x="852.40" y="287.00" width="5.30" height="5.30" rx="0" fill="#1c1b1a" stroke="none" stroke-width="0"/>
<rect x="852.40" y="294.40" width="5.30" height="5.30" rx="0" fill="#1c1b1a" stroke="none" stroke-width="0"/>
<rect x="852.40" y="301.80" width="5.30" height="5.30" rx="0" fill="#1c1b1a" stroke="none" stroke-width="0"/>
<rect x="859.44" y="250.00" width="5.30" height="5.30" rx="0" fill="#1c1b1a" stroke="none" stroke-width="0"/>
<rect x="859.44" y="257.40" width="5.30" height="5.30" rx="0" fill="#1c1b1a" stroke="none" stroke-width="0"/>
<rect x="859.44" y="264.80" width="5.30" height="5.30" rx="0" fill="#1c1b1a" stroke="none" stroke-width="0"/>
<rect x="859.44" y="272.20" width="5.30" height="5.30" rx="0" fill="#1c1b1a" stroke="none" stroke-width="0"/>
<rect x="859.44" y="279.60" width="5.30" height="5.30" rx="0" fill="#1c1b1a" stroke="none" stroke-width="0"/>
<rect x="859.44" y="287.00" width="5.30" height="5.30" rx="0" fill="#1c1b1a" stroke="none" stroke-width="0"/>
<rect x="859.44" y="294.40" width="5.30" height="5.30" rx="0" fill="#1c1b1a" stroke="none" stroke-width="0"/>
<rect x="859.44" y="301.80" width="5.30" height="5.30" rx="0" fill="#1c1b1a" stroke="none" stroke-width="0"/>
<rect x="866.48" y="250.00" width="5.30" height="5.30" rx="0" fill="#1c1b1a" stroke="none" stroke-width="0"/>
<rect x="866.48" y="257.40" width="5.30" height="5.30" rx="0" fill="#1c1b1a" stroke="none" stroke-width="0"/>
<rect x="866.48" y="264.80" width="5.30" height="5.30" rx="0" fill="#1c1b1a" stroke="none" stroke-width="0"/>
<rect x="866.48" y="272.20" width="5.30" height="5.30" rx="0" fill="#1c1b1a" stroke="none" stroke-width="0"/>
<rect x="866.48" y="279.60" width="5.30" height="5.30" rx="0" fill="#1c1b1a" stroke="none" stroke-width="0"/>
<rect x="866.48" y="287.00" width="5.30" height="5.30" rx="0" fill="#1c1b1a" stroke="none" stroke-width="0"/>
<rect x="866.48" y="294.40" width="5.30" height="5.30" rx="0" fill="#1c1b1a" stroke="none" stroke-width="0"/>
<rect x="866.48" y="301.80" width="5.30" height="5.30" rx="0" fill="#1c1b1a" stroke="none" stroke-width="0"/>
<path d="M833.4,442.4 L856.8,442.4 L856.8,452.0 L833.4,452.0 Z" fill="#1c1b1a" stroke="none" />
<ellipse cx="845.1" cy="452.2" rx="11.3" ry="3.3" fill="#fff" stroke="#1c1b1a" stroke-width="1.6"/>
<path d="M834.2,442.8 C835.2,433.6 839.4,426.2 844.8,426.2 C850.4,426.2 854.8,433.6 856.0,442.8" fill="none" stroke="#1c1b1a" stroke-width="2.0" stroke-linejoin="round" stroke-linecap="round" />
<line x1="806.50" y1="221.70" x2="806.50" y2="241.50" stroke="#424242" stroke-width="1.35" />
<line x1="882.40" y1="221.70" x2="882.40" y2="241.50" stroke="#424242" stroke-width="1.35" />
<line x1="826.00" y1="225.20" x2="864.00" y2="225.20" stroke="#1c1b1a" stroke-width="2.0" />
<polygon points="808.60,225.20 834.60,218.35 834.60,232.05" fill="#1c1b1a"/>
<polygon points="881.00,225.20 855.00,232.05 855.00,218.35" fill="#1c1b1a"/>
<line x1="883.60" y1="241.60" x2="914.80" y2="241.60" stroke="#424242" stroke-width="1.35" />
<line x1="858.60" y1="445.40" x2="915.20" y2="445.40" stroke="#424242" stroke-width="1.35" />
<line x1="911.20" y1="262.00" x2="911.20" y2="425.00" stroke="#1c1b1a" stroke-width="2.0" />
<polygon points="911.20,242.00 918.20,268.50 904.20,268.50" fill="#1c1b1a"/>
<polygon points="911.20,445.00 904.30,418.50 918.10,418.50" fill="#1c1b1a"/>
<line x1="833.00" y1="446.00" x2="833.00" y2="470.60" stroke="#424242" stroke-width="1.35" />
<line x1="857.20" y1="446.00" x2="857.20" y2="470.60" stroke="#424242" stroke-width="1.35" />
<line x1="833.00" y1="469.40" x2="857.20" y2="469.40" stroke="#424242" stroke-width="1.35" />
<polygon points="833.20,469.20 802.20,477.80 802.20,460.60" fill="#1c1b1a"/>
<polygon points="857.80,469.20 888.80,460.60 888.80,477.80" fill="#1c1b1a"/>
<g opacity="0.999">
<text transform="translate(75.45 525.75) rotate(-90) scale(0.8398 1)" font-size="35.8" text-anchor="start" stroke="#fff" stroke-width="0.9" vector-effect="non-scaling-stroke" fill="#1c1b1a">1060</text>
<text transform="translate(144.15 553.73) rotate(-90) scale(0.8704 1)" font-size="35.8" text-anchor="start" stroke="#fff" stroke-width="0.9" vector-effect="non-scaling-stroke" fill="#1c1b1a">550-850</text>
<text transform="translate(312.40 39.65) scale(0.8642 1)" font-size="35.8" text-anchor="start" stroke="#fff" stroke-width="0.9" vector-effect="non-scaling-stroke" fill="#1c1b1a">247</text>
<text transform="translate(139.50 197.25) scale(0.849 1)" font-size="35.8" text-anchor="start" stroke="#fff" stroke-width="0.9" vector-effect="non-scaling-stroke" fill="#1c1b1a">58</text>
<text transform="translate(293.97 334.45) scale(0.7886 1)" font-size="35.8" text-anchor="start" stroke="#fff" stroke-width="0.9" vector-effect="non-scaling-stroke" fill="#1c1b1a">&#216;22</text>
<text transform="translate(297.08 830.05) scale(0.8699 1)" font-size="35.8" text-anchor="start" stroke="#fff" stroke-width="0.9" vector-effect="non-scaling-stroke" fill="#1c1b1a">92</text>
<text transform="translate(467.41 250.38) rotate(-23.5) scale(0.8295 1)" font-size="35.8" text-anchor="start" stroke="#fff" stroke-width="0.9" vector-effect="non-scaling-stroke" fill="#1c1b1a">200</text>
<text transform="translate(638.07 39.75) scale(0.8295 1)" font-size="35.8" text-anchor="start" stroke="#fff" stroke-width="0.9" vector-effect="non-scaling-stroke" fill="#1c1b1a">200</text>
<text transform="translate(559.25 458.45) scale(0.8388 1)" font-size="35.8" text-anchor="start" stroke="#fff" stroke-width="0.9" vector-effect="non-scaling-stroke" fill="#1c1b1a">124</text>
<text transform="translate(694.54 967.95) scale(0.8442 1)" font-size="35.8" text-anchor="start" stroke="#fff" stroke-width="0.9" vector-effect="non-scaling-stroke" fill="#1c1b1a">64</text>
<text transform="translate(828.25 208.45) scale(0.8402 1)" font-size="35.8" text-anchor="start" stroke="#fff" stroke-width="0.9" vector-effect="non-scaling-stroke" fill="#1c1b1a">75</text>
<text transform="translate(944.45 368.96) rotate(-90) scale(0.8427 1)" font-size="35.8" text-anchor="start" stroke="#fff" stroke-width="0.9" vector-effect="non-scaling-stroke" fill="#1c1b1a">220</text>
<text transform="translate(902.50 481.45) scale(0.8633 1)" font-size="35.8" text-anchor="start" stroke="#fff" stroke-width="0.9" vector-effect="non-scaling-stroke" fill="#1c1b1a">G1/2</text>
</g>
</svg>
</body>
</html>
